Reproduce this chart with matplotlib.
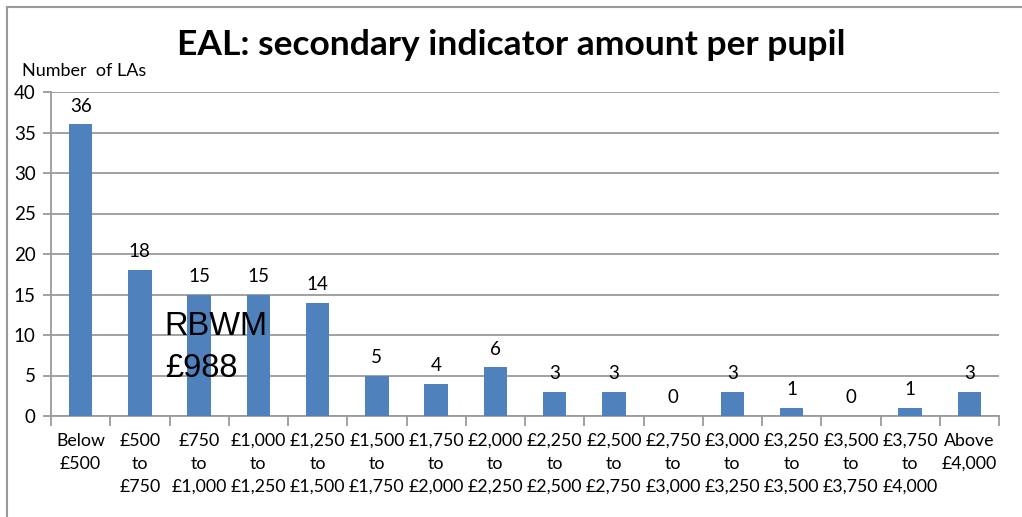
import matplotlib
matplotlib.use("Agg")
import matplotlib.pyplot as plt
from matplotlib.lines import Line2D
import numpy as np

# datos del grafico
categorias = ["Below\n£500", "£500\nto\n£750", "£750\nto\n£1,000", "£1,000\nto\n£1,250",
              "£1,250\nto\n£1,500", "£1,500\nto\n£1,750", "£1,750\nto\n£2,000", "£2,000\nto\n£2,250",
              "£2,250\nto\n£2,500", "£2,500\nto\n£2,750", "£2,750\nto\n£3,000", "£3,000\nto\n£3,250",
              "£3,250\nto\n£3,500", "£3,500\nto\n£3,750", "£3,750\nto\n£4,000", "Above\n£4,000"]
valores = [36, 18, 15, 15, 14, 5, 4, 6, 3, 3, 0, 3, 1, 0, 1, 3]
yticks = [0, 5, 10, 15, 20, 25, 30, 35, 40]

plt.rcParams['font.family'] = ['Lato', 'DejaVu Sans']
gris = '#9a9a9a'

fig = plt.figure(figsize=(10.22, 5.17), dpi=100)
ax = fig.add_axes([51/1022, 1 - 416/517, (999 - 51)/1022, (416 - 92)/517])

x = np.arange(len(valores))
ax.bar(x, valores, width=0.4, color='#4F81BD', zorder=3)
for xi, v in zip(x, valores):
    ax.annotate(str(v), (xi, v), xytext=(0, 7), textcoords='offset points',
                ha='center', va='bottom', fontsize=13.5)

ax.set_xlim(-0.5, len(valores) - 0.5)
ax.set_ylim(0, 40)
ax.set_yticks(yticks)
ax.yaxis.grid(True, color=gris, lw=1.3, zorder=0)
ax.tick_params(axis='y', labelsize=13.5, length=6, color=gris, width=1.3, pad=5)
ax.set_xticks(x)
ax.set_xticklabels(categorias, fontsize=12.8, linespacing=1.55, va='top')
ax.tick_params(axis='x', which='major', length=0, pad=12)
ax.set_xticks(np.arange(-0.5, len(valores)), minor=True)
ax.tick_params(axis='x', which='minor', length=7, color=gris, width=1.3)
for s in ['top', 'right']:
    ax.spines[s].set_visible(False)
for s in ['left', 'bottom']:
    ax.spines[s].set_color(gris)
    ax.spines[s].set_linewidth(1.3)

fig.text(0.5, 1 - 45/517, "EAL: secondary indicator amount per pupil", ha='center', va='center',
         fontsize=25.5, fontweight='bold')
fig.text(22/1022, 1 - 71/517, "Number  of LAs", ha='left', va='center', fontsize=13)

ax.text(1.42, 11.0, "RBWM", fontsize=23.5, family='Liberation Sans', va='center', ha='left', zorder=4)
ax.text(1.42, 5.9, "£988", fontsize=23.5, family='Liberation Sans', va='center', ha='left', zorder=4)

# marco de la imagen
fig.add_artist(Line2D([7/1022, 1], [1 - 6.5/517, 1 - 6.5/517], color=gris, lw=1.5))
fig.add_artist(Line2D([7/1022, 7/1022], [0, 1 - 6.5/517], color=gris, lw=1.5))

fig.savefig("out.png", dpi=100)
